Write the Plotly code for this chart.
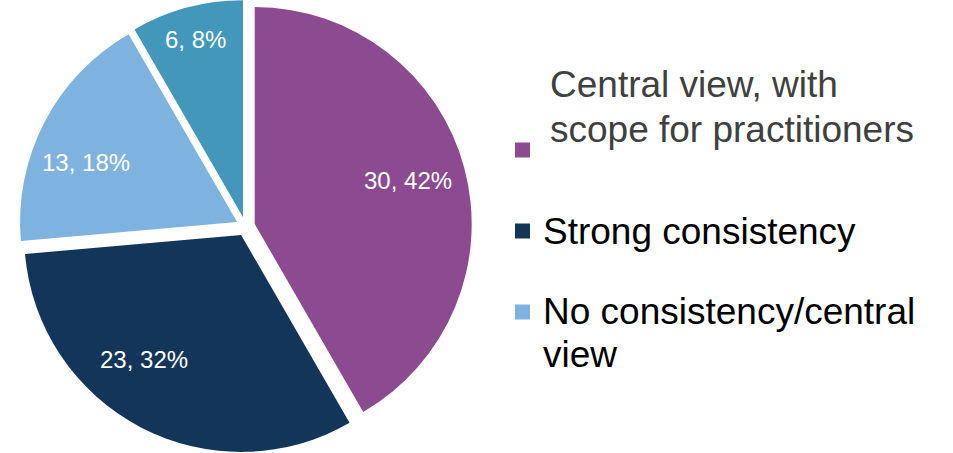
import math
import plotly.graph_objects as go

# Survey responses: count per view
labels = [
    "Central view, with scope for practitioners",
    "Strong consistency",
    "No consistency/central view",
    "Other",
]
counts = [30, 23, 13, 6]
colors = ["#8C4A90", "#14355A", "#7EB3E0", "#4297BA"]

# Legend entries shown beside the pie (first three categories)
legend_lines = [
    ["Central view, with", "scope for practitioners"],
    ["Strong consistency"],
    ["No consistency/central", "view"],
]
legend_text_colors = ["#404040", "#000000", "#000000"]

# Data-label placement per slice: radial fraction and angular nudge (deg)
label_radius = [0.78, 0.77, 0.79, 0.89]
label_nudge = [-0.6, 10.0, -5.6, 0.0]

W, H = 953, 453
FONT = "Arial, Liberation Sans, sans-serif"
PULL = 0.044
DOM_X = [19 / W, 472 / W]
DOM_Y = [0, 1]

fig = go.Figure(
    go.Pie(
        labels=labels,
        values=counts,
        sort=False,
        direction="clockwise",
        rotation=0,
        pull=PULL,
        marker=dict(colors=colors, line=dict(width=0)),
        textinfo="none",
        domain=dict(x=DOM_X, y=DOM_Y),
        showlegend=False,
        hoverinfo="label+value+percent",
    )
)

# Pie geometry in pixels (same rule plotly uses: fit the pulled pie in the domain)
dom_w = (DOM_X[1] - DOM_X[0]) * W
dom_h = (DOM_Y[1] - DOM_Y[0]) * H
cx = (DOM_X[0] + DOM_X[1]) / 2 * W
cy = (1 - (DOM_Y[0] + DOM_Y[1]) / 2) * H
radius = min(dom_w, dom_h) / 2 / (1 + PULL)

annotations = []
total = sum(counts)
cum = 0
for i, v in enumerate(counts):
    mid = (cum + v / 2) / total * 360 + label_nudge[i]
    cum += v
    a = math.radians(mid)
    px = cx + label_radius[i] * radius * math.sin(a)
    py = cy - label_radius[i] * radius * math.cos(a)
    annotations.append(dict(
        text=f"{v}, {round(100 * v / total)}%",
        xref="paper", yref="paper", x=px / W, y=1 - py / H,
        xanchor="center", yanchor="middle", showarrow=False,
        font=dict(family=FONT, size=24, color="white"),
    ))

# Hand-built legend: square swatch + wrapped text lines
swatch_centers = [150, 231, 312]
line_centers = [[84, 129], [232], [311, 354]]
text_x = [548, 541, 541]
shapes = []
for i, lines in enumerate(legend_lines):
    yc = swatch_centers[i]
    shapes.append(dict(
        type="rect", xref="paper", yref="paper",
        x0=515 / W, x1=530 / W,
        y0=1 - (yc + 7.5) / H, y1=1 - (yc - 7.5) / H,
        fillcolor=colors[i], line=dict(width=0),
    ))
    for txt, ly in zip(lines, line_centers[i]):
        annotations.append(dict(
            text=txt, xref="paper", yref="paper",
            x=text_x[i] / W, y=1 - ly / H,
            xanchor="left", yanchor="middle", showarrow=False,
            font=dict(family=FONT, size=37, color=legend_text_colors[i]),
        ))

fig.update_layout(
    width=W, height=H,
    margin=dict(l=0, r=0, t=0, b=0),
    paper_bgcolor="white",
    plot_bgcolor="white",
    shapes=shapes,
    annotations=annotations,
)

fig.write_html("out.html")
